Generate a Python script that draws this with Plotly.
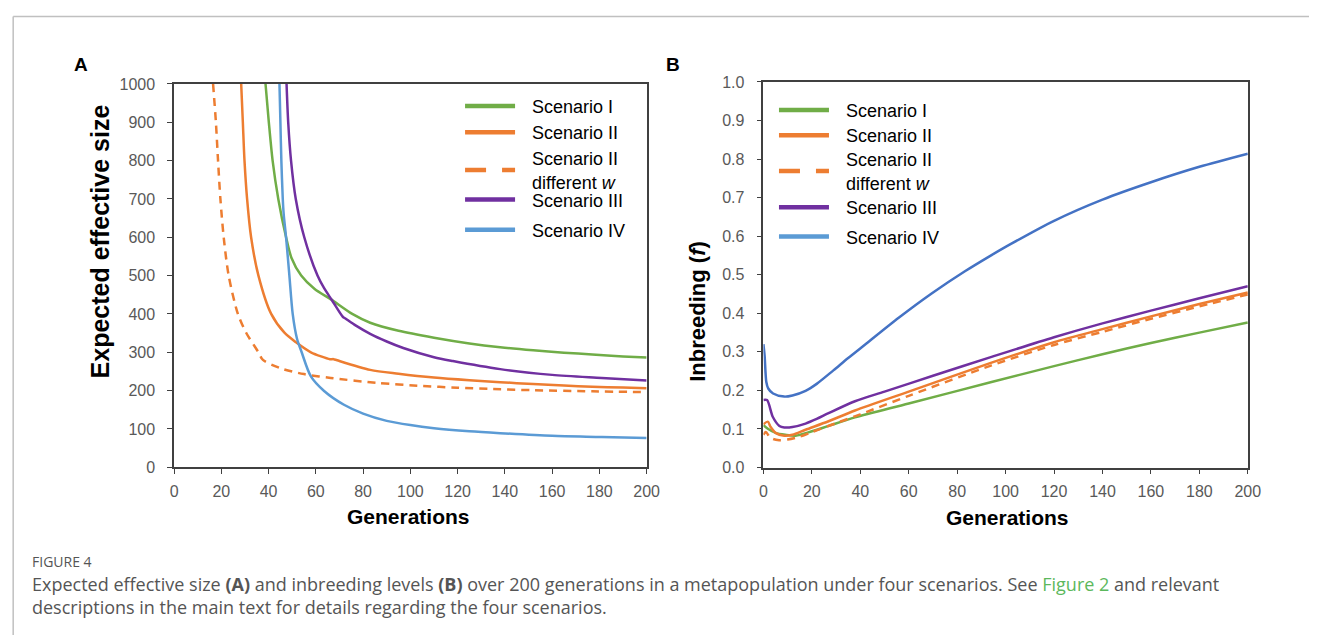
import plotly.graph_objects as go

W, H = 1322, 644

# ---------------- Panel A: expected effective size ----------------
gen_a_s1 = [38.7, 40.1, 41.7, 44.1, 47.4, 49.7, 53.8, 59.5, 66.4, 75.4, 83, 95, 110, 125, 138, 152, 165, 177, 190, 200]
ne_a_s1 = [1000, 900, 800, 700, 600, 546, 500, 465, 438, 400, 377, 356, 338, 323, 313, 305, 299, 294, 289, 286]

gen_a_s2 = [28.4, 29.1, 29.8, 30.9, 32.6, 35.7, 41.1, 46.7, 51.6, 57.9, 66, 67.5, 69, 83, 95, 110, 125, 138, 152, 165, 177, 190, 200]
ne_a_s2 = [1000, 900, 800, 700, 600, 500, 400, 351, 326, 300, 282, 282, 279, 254, 244, 234, 227, 222, 217, 213, 210, 208, 206]

gen_a_s2w = [16.5, 17.7, 18.6, 19.6, 21.0, 23.1, 27.0, 30.5, 35.7, 37.6, 45.2, 55, 66.3, 86, 105, 120, 135, 152, 177, 200]
ne_a_s2w = [1000, 900, 800, 700, 600, 500, 400, 351, 300, 280, 258, 243, 233, 220, 212, 207.5, 204, 201, 198, 196]

gen_a_s3 = [47.6, 48.3, 49.5, 51.5, 55.1, 60.7, 63.5, 66.7, 71.5, 72.5, 76.8, 83, 90, 97, 110, 118, 138, 160, 181, 200]
ne_a_s3 = [1000, 900, 800, 700, 600, 500, 467, 437, 392, 388, 370, 348, 328, 311, 287, 277, 256, 241, 233, 226]

gen_a_s4 = [44.6, 45.0, 45.4, 46.0, 46.4, 47.4, 48.8, 50.2, 52.0, 54.0, 57.9, 63.5, 71.9, 80, 90, 100, 110, 125, 138, 160, 181, 200]
ne_a_s4 = [1000, 900, 800, 700, 660, 600, 500, 400, 336, 300, 237, 199, 163, 140, 121, 110, 102, 94, 89, 82, 79, 76]

# ---------------- Panel B: inbreeding ----------------
gen_b_s1 = [0, 2, 5, 9, 13.3, 20, 26.9, 37.8, 60, 94.2, 120, 140, 160, 180, 200]
f_b_s1 = [0.11, 0.10, 0.09, 0.085, 0.0825, 0.094, 0.108, 0.130, 0.166, 0.222, 0.263, 0.294, 0.323, 0.350, 0.376]

gen_b_s2 = [0, 1.8, 3, 5, 8.6, 12, 17.4, 26.9, 37.8, 60, 94.2, 120, 140, 160, 180, 200]
f_b_s2 = [0.112, 0.119, 0.105, 0.090, 0.0825, 0.085, 0.098, 0.120, 0.148, 0.197, 0.272, 0.325, 0.359, 0.392, 0.424, 0.454]

gen_b_s2w = [0, 1, 2.5, 4, 6.5, 10, 15, 20, 30, 40, 60, 94.2, 120, 140, 160, 180, 200]
f_b_s2w = [0.085, 0.092, 0.080, 0.074, 0.071, 0.073, 0.080, 0.092, 0.115, 0.138, 0.186, 0.265, 0.318, 0.352, 0.386, 0.418, 0.449]

gen_b_s3 = [0, 1.5, 3.9, 6.6, 8.6, 12, 17.4, 22, 26.9, 37.8, 50, 70, 94.2, 120, 140, 160, 180, 200]
f_b_s3 = [0.175, 0.175, 0.131, 0.108, 0.104, 0.105, 0.114, 0.126, 0.141, 0.172, 0.197, 0.238, 0.287, 0.338, 0.374, 0.407, 0.439, 0.470]

gen_b_s4 = [0, 0.5, 1.2, 2, 4, 8.6, 12, 17.4, 22, 28.9, 35, 42.4, 56, 69.6, 83.2, 94.2, 102.2, 120, 140, 160, 180, 200]
f_b_s4 = [0.32, 0.29, 0.222, 0.205, 0.192, 0.184, 0.187, 0.199, 0.217, 0.252, 0.284, 0.321, 0.389, 0.452, 0.509, 0.551, 0.580, 0.640, 0.695, 0.740, 0.780, 0.814]

names = ["Scenario I", "Scenario II", "Scenario II<br>different <i>w</i>", "Scenario III", "Scenario IV"]

x_ticks = list(range(0, 201, 20))

GREEN, ORANGE, PURPLE = "#70AD47", "#ED7D31", "#7030A0"
BLUE_A, BLUE_B = "#5B9BD5", "#4472C4"
AXC = "#404040"
TICKC = "#595959"
FONT = "Liberation Sans, Arial, sans-serif"


def px(x):
    return x / W


def py(y):
    return 1 - y / H


fig = go.Figure()

panel_a = [
    (gen_a_s1, ne_a_s1, GREEN, "solid"),
    (gen_a_s2, ne_a_s2, ORANGE, "solid"),
    (gen_a_s2w, ne_a_s2w, ORANGE, "8px,6px"),
    (gen_a_s3, ne_a_s3, PURPLE, "solid"),
    (gen_a_s4, ne_a_s4, BLUE_A, "solid"),
]
panel_b = [
    (gen_b_s1, f_b_s1, GREEN, "solid"),
    (gen_b_s2, f_b_s2, ORANGE, "solid"),
    (gen_b_s2w, f_b_s2w, ORANGE, "8px,6px"),
    (gen_b_s3, f_b_s3, PURPLE, "solid"),
    (gen_b_s4, f_b_s4, BLUE_B, "solid"),
]
legend_cols = [GREEN, ORANGE, ORANGE, PURPLE, BLUE_A]
legend_dash = ["50px,300px", "50px,300px", "21px,16px,13px,300px", "50px,300px", "50px,300px"]
# vertical centre (px) of each legend entry, per panel
legend_rows_a = [101, 128, 166.5, 197, 228]
legend_rows_b = [105, 131, 167.5, 205, 235]

for (gx, gy, c, d), nm in zip(panel_a, names):
    fig.add_trace(go.Scatter(x=gx, y=gy, mode="lines", name=nm, showlegend=False,
                             line=dict(color=c, width=2.5, dash=d, shape="spline", smoothing=0.8),
                             xaxis="x", yaxis="y"))
for (gx, gy, c, d), nm in zip(panel_b, names):
    fig.add_trace(go.Scatter(x=gx, y=gy, mode="lines", name=nm, showlegend=False,
                             line=dict(color=c, width=2.5, dash=d, shape="spline", smoothing=0.8),
                             xaxis="x2", yaxis="y2"))

legend_common = dict(xanchor="left", yanchor="middle",
                     font=dict(family=FONT, size=18, color="black"),
                     bgcolor="rgba(0,0,0,0)", itemwidth=62)
legends = {}
k = 0
for xa, ya, lx, rows in (("x", "y", 462, legend_rows_a), ("x2", "y2", 780, legend_rows_b)):
    for i, nm in enumerate(names):
        k += 1
        lg = "legend" if k == 1 else f"legend{k}"
        legends[lg] = dict(x=px(lx), y=py(rows[i]), **legend_common)
        fig.add_trace(go.Scatter(x=[None], y=[None], mode="lines", name=nm, legend=lg,
                                 line=dict(color=legend_cols[i], width=4.5, dash=legend_dash[i]),
                                 xaxis=xa, yaxis=ya))

axis_common = dict(showline=True, linecolor=AXC, linewidth=1.5, mirror=True,
                   ticks="outside", ticklen=5, tickwidth=1.2, tickcolor=AXC,
                   showgrid=False, zeroline=False,
                   tickfont=dict(family=FONT, size=16, color=TICKC))

fig.update_layout(
    width=W, height=H, margin=dict(l=0, r=0, t=0, b=0),
    paper_bgcolor="white", plot_bgcolor="white",
    font=dict(family=FONT),
    xaxis=dict(domain=[px(172.3), px(651)], range=[0, 200], tickvals=x_ticks,
               anchor="y", ticklabelstandoff=4, **axis_common),
    yaxis=dict(domain=[py(471.7), py(78)], range=[0, 1000], dtick=100,
               anchor="x", ticklabelstandoff=9, **axis_common),
    xaxis2=dict(domain=[px(769.3), px(1260)], range=[0, 200], tickvals=x_ticks,
                anchor="y2", ticklabelstandoff=4, **axis_common),
    yaxis2=dict(domain=[py(472), py(76)], range=[0, 1], dtick=0.1, tickformat=".1f",
                anchor="x2", ticklabelstandoff=9, **axis_common),
    **legends,
)

ann = []
ann.append(dict(text="<b>A</b>", x=px(78), y=py(58), font=dict(family=FONT, size=19, color="black")))
ann.append(dict(text="<b>B</b>", x=px(678), y=py(58), font=dict(family=FONT, size=19, color="black")))
ann.append(dict(text="<b>Expected effective size</b>", x=px(97), y=py(240), textangle=-90,
                font=dict(family=FONT, size=25, color="black")))
ann.append(dict(text="<b>Generations</b>", x=px(410), y=py(522), font=dict(family=FONT, size=21, color="black")))
ann.append(dict(text="<b>Inbreeding (<i>f</i>)</b>", x=px(703), y=py(311), textangle=-90,
                font=dict(family=FONT, size=22, color="black")))
ann.append(dict(text="<b>Generations</b>", x=px(1017), y=py(523), font=dict(family=FONT, size=21, color="black")))

CAP = "Open Sans, Noto Sans, sans-serif"
ann.append(dict(text="FIGURE 4", x=px(26), y=py(568.5), xanchor="left",
                font=dict(family=CAP, size=14, color="#555555")))
ann.append(dict(text="Expected effective size <b>(A)</b> and inbreeding levels <b>(B)</b> over 200 generations in a "
                     "metapopulation under four scenarios. See <span style='color:#5cb85c'>Figure 2</span> and relevant"
                     "<br>descriptions in the main text for details regarding the four scenarios.",
                x=px(26), y=py(603.5), xanchor="left", align="left",
                font=dict(family=CAP, size=18, color="#555555")))
for a in ann:
    a.update(xref="paper", yref="paper", showarrow=False)
    a.setdefault("xanchor", "center")
    a.setdefault("yanchor", "middle")
fig.update_layout(annotations=ann)

fig.update_layout(shapes=[
    dict(type="line", xref="paper", yref="paper", x0=px(9.3), x1=1, y0=py(8.7), y1=py(8.7),
         line=dict(color="#c0c0c0", width=1.5)),
    dict(type="line", xref="paper", yref="paper", x0=px(9.3), x1=px(9.3), y0=py(8.7), y1=0,
         line=dict(color="#c0c0c0", width=1.5)),
])

# remove the default 8px page margin so the 1322x644 figure fills the window exactly
fig.write_html("out.html", config={"displayModeBar": False},
               post_script="document.body.style.margin='0';document.body.style.overflow='hidden';")
